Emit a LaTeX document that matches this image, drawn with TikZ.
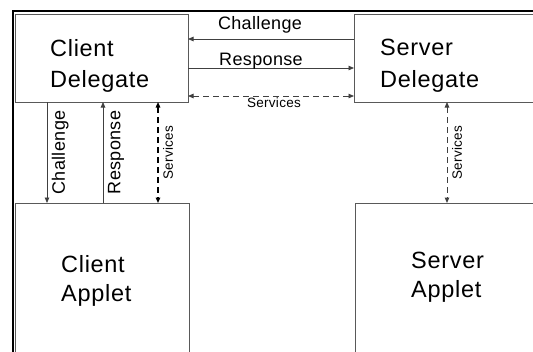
\documentclass[tikz,border=0pt]{standalone}
\usepackage{fontspec}
\setmainfont{Liberation Sans}
\newfontfamily\bigfont[LetterSpace=3]{Liberation Sans}
\newfontfamily\lblfont[LetterSpace=2]{Liberation Sans}
\usetikzlibrary{arrows.meta}
\begin{document}
\begin{tikzpicture}[x=1pt,y=-1pt,
  box/.style={draw=black!65, line width=0.8pt, inner sep=0pt, outer sep=0pt},
  boxtext/.style={anchor=north west, inner sep=0pt, align=left, font=\bigfont\fontsize{23.5}{31.5}\selectfont},
  conn/.style={draw=black!75, line width=0.8pt},
  tip/.style={-{Triangle[length=5.5pt,width=4.5pt]}},
  tips/.style={{Triangle[length=5.5pt,width=4.5pt]}-{Triangle[length=5.5pt,width=4.5pt]}},
  dashline/.style={dash pattern=on 6pt off 4pt},
  lbl/.style={font=\lblfont\fontsize{18}{20}\selectfont, inner sep=0pt},
  slbl/.style={font=\lblfont\fontsize{13.5}{15}\selectfont, inner sep=0pt},
  vlbl/.style={rotate=90, anchor=north, midway, inner sep=4.5pt}
]
\useasboundingbox (0,0) rectangle (533,351);
\clip (0,0) rectangle (533,351);
\fill[white] (0,0) rectangle (533,351);
% outer frame
\draw[line width=2pt, black] (12.5,360) -- (12.5,11) -- (540,11);
% boxes
\node[box, minimum width=173pt, minimum height=88pt] (cd) at (101.5,58) {};
\node[box, minimum width=246pt, minimum height=88pt] (sd) at (477,58) {};
\node[box, minimum width=174pt, minimum height=197pt] (ca) at (102,301.5) {};
\node[box, minimum width=245pt, minimum height=197pt] (sa) at (477.5,301.5) {};
% texts
\node[boxtext] (cdt) at (50,39) {Client\\Delegate};
\node[boxtext] (sdt) at (380,39) {Server\\Delegate};
\node[boxtext, font=\bigfont\fontsize{23.5}{29}\selectfont] (cat) at (61,255) {Client\\Applet};
\node[boxtext, font=\bigfont\fontsize{23.5}{29}\selectfont] (sat) at (411,252) {Server\\Applet};
% horizontal connectors
\draw[conn, tip] ([yshift=19pt]sd.west) -- ([yshift=19pt]sd.west -| cd.east)
  node[lbl, midway, anchor=base, xshift=-11pt, yshift=10pt] {Challenge};
\draw[conn, tip] ([yshift=-10pt]cd.east) -- ([yshift=-10pt]cd.east -| sd.west)
  node[lbl, midway, anchor=base, xshift=-10pt, yshift=3pt] {Response};
\draw[conn, dashline, tips] ([yshift=-38pt]cd.east) -- ([yshift=-38pt]cd.east -| sd.west)
  node[slbl, midway, anchor=base, xshift=3pt, yshift=-11pt] {Services};
% vertical connectors
\draw[conn, tip] ([xshift=-54.5pt]cd.south) -- ([xshift=-54.5pt]cd.south |- ca.north)
  node[lbl, vlbl] {Challenge};
\draw[conn, tip] ([xshift=1.5pt]cd.south |- ca.north) -- ([xshift=1.5pt]cd.south)
  node[lbl, vlbl] {Response};
\draw[conn, draw=black, dashline, line width=1.3pt, tips] ([xshift=56.5pt]cd.south) -- ([xshift=56.5pt]cd.south |- ca.north)
  node[slbl, vlbl] {Services};
\draw[conn, dashline, line width=1pt, tips] ([xshift=-30pt]sd.south) -- ([xshift=-30pt]sd.south |- sa.north)
  node[slbl, vlbl] {Services};
\end{tikzpicture}
\end{document}
